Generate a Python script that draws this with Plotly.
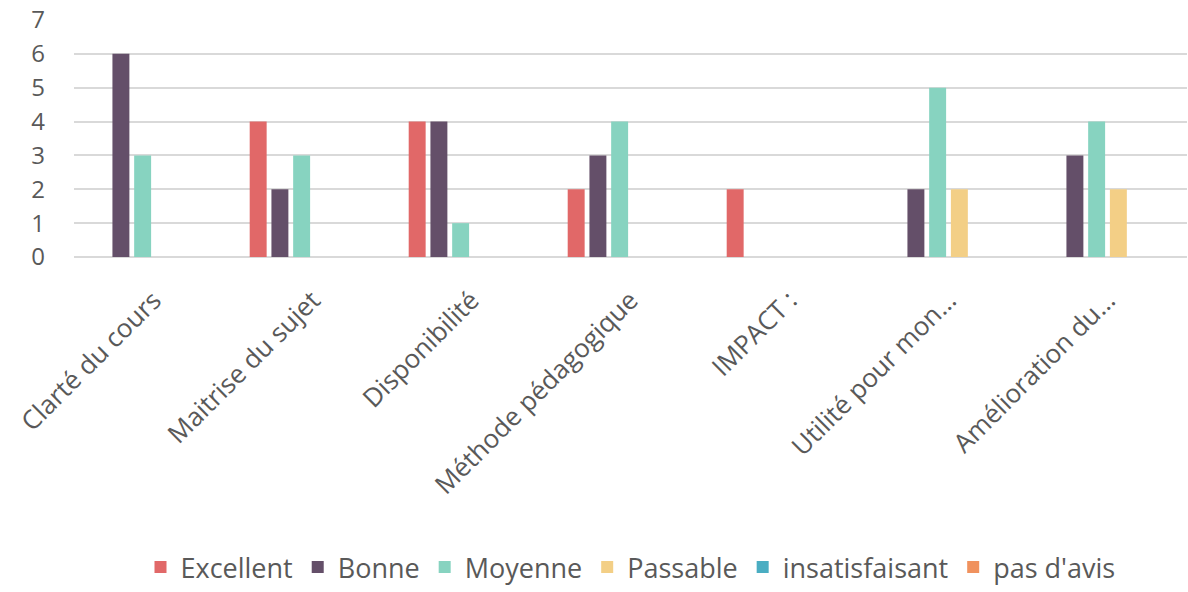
import plotly.graph_objects as go

categories = ["Clarté du cours", "Maitrise du sujet", "Disponibilité", "Méthode pédagogique",
              "IMPACT :", "Utilité pour mon…", "Amélioration du…"]
excellent = [0, 4, 4, 2, 2, 0, 0]
bonne = [6, 2, 4, 3, 0, 2, 3]
moyenne = [3, 3, 1, 4, 0, 5, 4]
passable = [0, 0, 0, 0, 0, 2, 2]
insatisfaisant = [0, 0, 0, 0, 0, 0, 0]
pas_davis = [0, 0, 0, 0, 0, 0, 0]
y_ticks = [0, 1, 2, 3, 4, 5, 6, 7]

series = [
    ("Excellent", excellent, "#E16868"),
    ("Bonne", bonne, "#644F69"),
    ("Moyenne", moyenne, "#87D3C0"),
    ("Passable", passable, "#F3CF86"),
    ("insatisfaisant", insatisfaisant, "#4AADC2"),
    ("pas d'avis", pas_davis, "#F0925E"),
]

FONT = "Open Sans"
GREY = "#595959"

fig = go.Figure()
for name, vals, color in series:
    fig.add_trace(go.Bar(x=categories, y=vals, name=name,
                         marker=dict(color=color, line=dict(width=0))))

fig.update_layout(
    width=1188, height=592,
    paper_bgcolor="white", plot_bgcolor="white",
    barmode="group", bargap=0.18, bargroupgap=0.22,
    margin=dict(l=74, r=1, t=20, b=333),
    font=dict(family=FONT, color=GREY, size=24),
    legend=dict(orientation="h", x=0.5, xanchor="center", y=-1.31, yanchor="middle",
                font=dict(family=FONT, size=27, color=GREY),
                itemwidth=30, tracegroupgap=0, traceorder="normal"),
    showlegend=True,
)
fig.update_xaxes(tickangle=-45, tickfont=dict(family=FONT, size=26, color=GREY),
                 showline=False, showgrid=False, ticks="", ticklabelstandoff=22)
fig.update_yaxes(range=[0, 7], tickvals=y_ticks, showgrid=True, gridcolor="#D9D9D9",
                 gridwidth=2, zeroline=True, zerolinecolor="#D9D9D9", zerolinewidth=2,
                 showline=False, ticks="", ticklabelstandoff=28,
                 tickfont=dict(family=FONT, size=24, color=GREY))

fig.write_html("out.html")
